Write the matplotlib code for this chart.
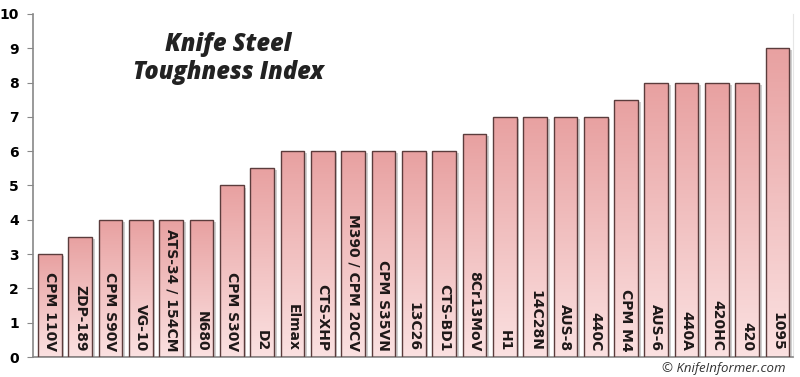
import numpy as np
import matplotlib.pyplot as plt
from matplotlib.colors import LinearSegmentedColormap
from matplotlib.patches import Rectangle

steels = ['CPM 110V', 'ZDP-189', 'CPM S90V', 'VG-10', 'ATS-34 / 154CM', 'N680',
          'CPM S30V', 'D2', 'Elmax', 'CTS-XHP', 'M390 / CPM 20CV', 'CPM S35VN',
          '13C26', 'CTS-BD1', '8Cr13MoV', 'H1', '14C28N', 'AUS-8', '440C',
          'CPM M4', 'AUS-6', '440A', '420HC', '420', '1095']
toughness = [3, 3.5, 4, 4, 4, 4, 5, 5.5, 6, 6, 6, 6, 6, 6, 6.5, 7, 7, 7, 7,
             7.5, 8, 8, 8, 8, 9]

plt.rcParams['font.family'] = ['DejaVu Sans']

fig = plt.figure(figsize=(8, 3.77), dpi=100)
ax = fig.add_axes([0.041, 0.053, 0.95, 0.91])

cmap = LinearSegmentedColormap.from_list('pink', ['#fbe1e1', '#e8a1a1'])
grad = np.linspace(0, 1, 100).reshape(-1, 1)
w = 0.78

x = np.arange(len(steels))
bars = ax.bar(x, toughness, width=w, facecolor='none', edgecolor='#5b3c3c',
              linewidth=1.0, zorder=3)
for b, v in zip(bars, toughness):
    x0 = b.get_x()
    # shadow
    ax.add_patch(Rectangle((x0 + 0.09, -0.06), w, v, facecolor='#b0b0b0',
                           edgecolor='none', alpha=0.6, zorder=1))
    im = ax.imshow(grad, cmap=cmap, origin='lower', aspect='auto',
                   extent=(x0, x0 + w, 0, v), zorder=2)
    im.set_clip_path(b)

for xi, name in zip(x, steels):
    ax.text(xi, 0.17, name, rotation=-90, ha='center', va='bottom',
            fontsize=10, fontweight='bold', color='#1e1818', zorder=4)

ax.set_xlim(-0.56, 24.5)
ax.set_ylim(0, 10)
ax.set_yticks(range(0, 11))
ax.set_xticks([])
ax.tick_params(axis='y', length=4, color='#888888', labelsize=10, pad=6)
for lbl in ax.get_yticklabels():
    lbl.set_fontweight('bold')
ax.spines['top'].set_visible(False)
ax.spines['right'].set_color('#e6e6e6')
ax.spines['left'].set_color('#888888')
ax.spines['bottom'].set_color('#888888')
ax.spines['left'].set_linewidth(1.2)
ax.spines['bottom'].set_linewidth(1.2)

fig.text(0.285, 0.845, 'Knife Steel\nToughness Index', ha='center', va='center',
         fontsize=17, fontweight=800, style='italic', color='#222222',
         family='Open Sans', linespacing=1.15)
fig.text(0.982, 0.005, '\u00a9 KnifeInformer.com', ha='right', va='bottom',
         fontsize=9.5, style='italic', color='#333333', family='Open Sans')

fig.savefig('out.png', dpi=100)
